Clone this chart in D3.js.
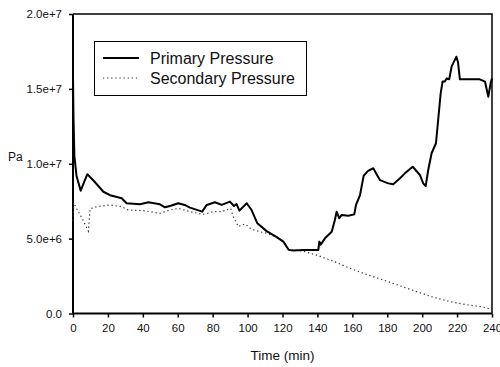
<!DOCTYPE html>
<html><head><meta charset="utf-8">
<script src="https://cdn.jsdelivr.net/npm/d3@7/dist/d3.min.js"></script>
<style>body{margin:0;background:#fff}svg{display:block}text{font-family:"Liberation Sans",Arial,sans-serif;fill:#111}</style>
</head><body><svg id="c" width="500" height="367"></svg>
<script>
const xTicks = [0,20,40,60,80,100,120,140,160,180,200,220,240];
const yTicks = [0,5e6,1e7,1.5e7,2e7];
const yTickLabels = ["0.0","5.0e+6","1.0e+7","1.5e+7","2.0e+7"];
const seriesNames = ["Primary Pressure","Secondary Pressure"];
const primaryT = [0,0.3,0.8,2,4.4,8.2,12,17.4,21.2,27.9,30.7,38.4,43.2,49.8,52.7,56,60.3,64,67,74,76.6,81.3,85.2,89.9,92.2,93.7,95.3,99.5,102.3,105.6,110.9,116.7,120.5,123.5,126,131.9,140.5,141.1,141.9,144.3,148.2,150,151,152.5,153.9,157.7,161.1,162.1,164.4,166.5,169,172,173.9,175.8,180.6,183.4,187.3,190.1,194.6,198.7,200.6,202,203.5,205.4,207.9,210.6,211.7,213,214,215.5,216.9,219.6,220.5,221.6,233,236,237.9,239.2,240];
const primaryV = [15.8,13,10.5,9.2,8.2,9.3,8.85,8.13,7.9,7.7,7.36,7.29,7.43,7.29,7.09,7.2,7.36,7.25,7.07,6.8,7.25,7.43,7.25,7.47,7.18,7.31,6.87,7.36,6.91,6.02,5.5,5.1,4.8,4.26,4.2,4.24,4.24,4.8,4.6,5.02,5.46,6.24,6.8,6.36,6.58,6.53,6.62,7.25,7.91,9.2,9.52,9.7,9.3,8.91,8.69,8.63,9.03,9.36,9.8,9.25,8.69,8.5,9.6,10.7,11.37,14.7,15.5,15.5,15.7,15.64,16.5,17.15,16.8,15.64,15.64,15.48,14.48,15.37,15.7];
const secondaryT = [0,0.4,2.1,5,8.8,9.8,13.6,21.2,27.9,31.7,40.3,49.8,55.6,60.3,67,74.6,80.4,85.2,90.3,91.8,94.7,98.5,102.3,107.1,110.9,116.7,120.5,123.5,128,132,139.6,150,158.6,167,177.7,186,196.8,206,215.9,227.4,234,240];
const secondaryV = [6.2,7.4,7.0,6.4,5.5,7.0,7.13,7.25,7.13,6.91,6.87,6.69,6.91,7.02,6.8,6.62,6.8,6.8,7.02,6.46,5.8,5.98,5.62,5.46,5.36,5.1,4.8,4.3,4.22,4.15,3.9,3.45,3.02,2.65,2.24,1.9,1.46,1.1,0.79,0.55,0.45,0.28];

const svg = d3.select("#c");
const L=73, R=492, T=14, B=313.5;
const x = d3.scaleLinear().domain([0,240]).range([L,R]);
const y = d3.scaleLinear().domain([0,2e7]).range([B,T]);

// box top/right
svg.append("path").attr("d",`M${L},${T}H${R}V${B}`).attr("fill","none").attr("stroke","#000").attr("stroke-width",1.5);

const xAxis = svg.append("g").attr("transform",`translate(0,${B})`)
  .call(d3.axisBottom(x).tickValues(xTicks).tickSize(4).tickPadding(6).tickFormat(d3.format("d")));
const yAxis = svg.append("g").attr("transform",`translate(${L},0)`)
  .call(d3.axisLeft(y).tickValues(yTicks).tickSize(4).tickPadding(7).tickFormat((d,i)=>yTickLabels[i]));
[xAxis,yAxis].forEach(g=>{
  g.select(".domain").attr("stroke","#000").attr("stroke-width",2);
  g.selectAll(".tick line").attr("stroke","#000").attr("stroke-width",1.5);
  g.selectAll("text").style("font-family",'"Liberation Sans",Arial,sans-serif').style("font-size","11.5px").attr("fill","#111");
});
xAxis.select(".domain").attr("d",`M${L},0H${R}`);
yAxis.select(".domain").attr("d",`M0,${T}V${B}`);

const line = d3.line().x(d=>x(d[0])).y(d=>y(d[1]*1e6));
const prim = primaryT.map((t,i)=>[t,primaryV[i]]);
const sec = secondaryT.map((t,i)=>[t,secondaryV[i]]);
svg.append("path").datum(sec).attr("d",line).attr("fill","none").attr("stroke","#333").attr("stroke-width",1.2).attr("stroke-dasharray","1.3,2.8");
svg.append("path").datum(prim).attr("d",line).attr("fill","none").attr("stroke","#000").attr("stroke-width",2).attr("stroke-linejoin","round");

// axis titles
svg.append("text").attr("x",8).attr("y",161).style("font-size","12px").text("Pa");
svg.append("text").attr("x",(L+R)/2).attr("y",360).attr("text-anchor","middle").style("font-size","13.5px").text("Time (min)");

// legend
const lg = svg.append("g");
lg.append("rect").attr("x",94.5).attr("y",41.5).attr("width",212).attr("height",54).attr("fill","#fff").attr("stroke","#000").attr("stroke-width",1);
lg.append("line").attr("x1",103).attr("x2",139).attr("y1",58).attr("y2",58).attr("stroke","#000").attr("stroke-width",2);
lg.append("line").attr("x1",103).attr("x2",139).attr("y1",78).attr("y2",78).attr("stroke","#333").attr("stroke-width",1.2).attr("stroke-dasharray","1.3,2.8");
lg.append("text").attr("x",150).attr("y",64).style("font-size","16px").text(seriesNames[0]);
lg.append("text").attr("x",150).attr("y",84).style("font-size","16px").text(seriesNames[1]);
</script></body></html>
